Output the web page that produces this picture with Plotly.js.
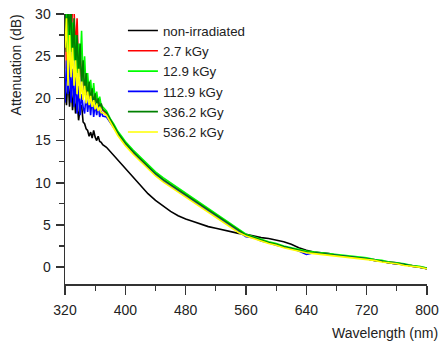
<!DOCTYPE html>
<html>
<head>
<meta charset="utf-8">
<script src="https://cdn.plot.ly/plotly-3.0.1.min.js"></script>
<style>html,body{margin:0;padding:0;background:#fff;}#chart{width:441px;height:342px;}</style>
</head>
<body>
<div id="chart"></div>
<script>
// Wavelength grid (nm)
const wavelength = [
  320,322,324,326,328,330,332,334,336,338,340,342,344,346,348,350,352,354,356,358,360,362,364,366,368,370,
  375,380,385,390,395,400,
  410,420,430,440,450,460,470,480,490,500,510,520,530,540,550,560,570,580,590,600,
  610,620,630,640,650,660,670,680,690,700,710,720,730,740,750,760,770,780,790,800
];

const seriesNames = ["non-irradiated", "2.7 kGy", "12.9 kGy", "112.9 kGy", "336.2 kGy", "536.2 kGy"];
const seriesColors = ["#000000", "#ff0000", "#00ff00", "#0000ff", "#008000", "#ffff00"];

const nonIrradiated = [
  21.0,19.2,22.8,19.0,21.8,18.6,20.8,18.2,19.8,17.4,18.8,19.2,17.2,17.0,16.4,16.2,15.5,16.0,15.3,16.2,15.4,15.0,15.5,14.9,14.8,14.5,
  14.2,13.7,13.2,12.8,12.3,11.8,
  10.8,9.8,8.7,7.9,7.2,6.6,6.1,5.7,5.4,5.1,4.8,4.6,4.4,4.2,4.0,3.9,3.7,3.5,3.4,3.2,
  3.0,2.7,2.3,2.0,1.8,1.7,1.6,1.4,1.3,1.2,1.1,1.0,0.9,0.7,0.6,0.5,0.3,0.2,0.0,-0.1
];
const kGy2_7 = [
  31.0,23.5,31.5,30.5,26.5,31.0,30.5,25.5,29.5,23.5,25.5,22.0,23.5,21.0,22.5,20.0,21.5,19.8,20.5,19.5,20.6,19.3,19.9,18.9,19.3,18.6,
  18.2,17.3,16.6,15.8,15.2,14.6,
  13.6,12.7,11.8,11.0,10.3,9.7,9.1,8.5,7.9,7.3,6.7,6.1,5.5,4.9,4.3,3.8,3.5,3.2,2.9,2.7,
  2.4,2.2,2.0,1.8,1.7,1.6,1.5,1.4,1.3,1.2,1.1,1.0,0.8,0.7,0.5,0.4,0.3,0.1,0.0,-0.2
];
const kGy12_9 = [
  28.0,32.0,24.5,31.0,25.5,29.0,24.5,27.5,23.0,26.5,23.5,28.0,22.0,25.0,21.0,23.0,20.5,22.2,20.0,21.8,19.8,20.8,19.4,20.2,19.1,19.0,
  18.5,17.6,16.9,16.1,15.5,14.9,
  13.9,13.0,12.1,11.3,10.6,10.0,9.4,8.8,8.2,7.6,7.0,6.4,5.8,5.2,4.5,3.9,3.6,3.3,3.0,2.8,
  2.5,2.3,2.1,1.9,1.8,1.7,1.6,1.5,1.4,1.3,1.2,1.1,0.9,0.8,0.6,0.5,0.4,0.2,0.1,-0.1
];
const kGy112_9 = [
  19.5,24.5,20.5,25.5,19.5,23.5,19.0,22.5,18.2,21.5,18.0,20.5,19.0,18.2,20.5,18.4,20.0,18.0,20.2,17.8,19.4,18.0,19.2,17.8,18.5,17.9,
  17.8,17.1,16.5,15.9,15.1,14.5,
  13.7,12.6,11.8,10.9,10.2,9.6,9.0,8.4,7.8,7.2,6.6,6.0,5.4,4.8,4.2,3.6,3.5,3.1,2.9,2.6,
  2.4,2.2,1.9,1.5,1.7,1.6,1.5,1.4,1.3,1.2,1.1,1.0,0.8,0.7,0.5,0.4,0.3,0.1,0.0,-0.2
];
const kGy336_2 = [
  31.0,25.5,32.0,27.5,31.0,24.5,29.5,23.5,27.5,22.5,26.5,21.5,24.5,20.5,23.0,20.0,22.0,19.6,21.2,19.2,20.6,19.0,20.0,18.8,19.4,18.7,
  18.3,17.4,16.7,15.9,15.3,14.7,
  13.7,12.8,11.9,11.1,10.4,9.8,9.2,8.6,8.0,7.4,6.8,6.2,5.6,5.0,4.4,3.8,3.5,3.2,2.9,2.7,
  2.4,2.2,2.0,1.8,1.7,1.6,1.5,1.4,1.3,1.2,1.1,1.0,0.8,0.7,0.5,0.4,0.3,0.1,0.0,-0.2
];
const kGy536_2 = [
  26.0,29.5,21.5,27.5,22.5,26.0,21.5,24.5,20.5,23.5,20.0,22.0,19.8,21.5,19.4,20.8,19.2,20.3,19.0,19.8,18.7,19.4,18.5,19.0,18.3,18.3,
  18.0,17.1,16.4,15.6,15.0,14.4,
  13.4,12.5,11.6,10.8,10.1,9.5,8.9,8.3,7.7,7.1,6.5,5.9,5.3,4.7,4.1,3.7,3.4,3.1,2.8,2.6,
  2.3,2.1,1.9,1.7,1.6,1.5,1.4,1.3,1.2,1.1,1.0,0.9,0.8,0.6,0.5,0.4,0.2,0.1,0.0,-0.2
];

const xTickVals = [320, 400, 480, 560, 640, 720, 800];
const yTickVals = [0, 5, 10, 15, 20, 25, 30];

const allSeries = [nonIrradiated, kGy2_7, kGy12_9, kGy112_9, kGy336_2, kGy536_2];

const traces = allSeries.map((ys, i) => ({
  x: wavelength,
  y: ys,
  type: 'scatter',
  mode: 'lines',
  name: seriesNames[i],
  line: {color: seriesColors[i], width: 1.6}
}));

const font = {family: 'Liberation Sans, Arial, sans-serif', size: 14, color: '#222'};

const layout = {
  width: 441,
  height: 342,
  margin: {l: 65, r: 14, t: 14, b: 58},
  paper_bgcolor: '#ffffff',
  plot_bgcolor: '#ffffff',
  font: font,
  showlegend: true,
  legend: {
    x: 0.16, y: 0.995, xanchor: 'left', yanchor: 'top',
    bgcolor: 'rgba(0,0,0,0)',
    font: {family: font.family, size: 13.3, color: '#222'},
    tracegroupgap: 0,
    itemwidth: 30
  },
  xaxis: {
    range: [320, 800],
    tickvals: xTickVals,
    ticktext: xTickVals.map(String),
    showgrid: false, zeroline: false,
    showline: true, linecolor: '#333', linewidth: 1.5,
    ticks: 'outside', ticklen: 9, tickwidth: 1.5, tickcolor: '#333',
    ticklabelstandoff: 4,
    minor: {dtick: 40, tick0: 320, ticks: 'outside', ticklen: 5, tickwidth: 1.2, tickcolor: '#333', showgrid: false},
    tickfont: font
  },
  yaxis: {
    range: [-2, 30],
    tickvals: yTickVals,
    ticktext: yTickVals.map(String),
    showgrid: false, zeroline: false,
    showline: true, linecolor: '#333', linewidth: 1.5,
    ticks: 'outside', ticklen: 8, tickwidth: 1.5, tickcolor: '#333',
    ticklabelstandoff: 2,
    minor: {dtick: 2.5, tick0: 0, ticks: 'outside', ticklen: 5, tickwidth: 1.2, tickcolor: '#333', showgrid: false},
    tickfont: font
  },
  annotations: [
    {text: 'Attenuation (dB)', xref: 'paper', yref: 'paper', x: -0.135, y: 0.81,
     xanchor: 'center', yanchor: 'middle', textangle: -90, showarrow: false, font: font},
    {text: 'Wavelength (nm)', xref: 'paper', yref: 'paper', x: 1.035, y: -0.18,
     xanchor: 'right', yanchor: 'middle', showarrow: false, font: font}
  ]
};

Plotly.newPlot('chart', traces, layout, {staticPlot: true, displayModeBar: false});
</script>
</body>
</html>
